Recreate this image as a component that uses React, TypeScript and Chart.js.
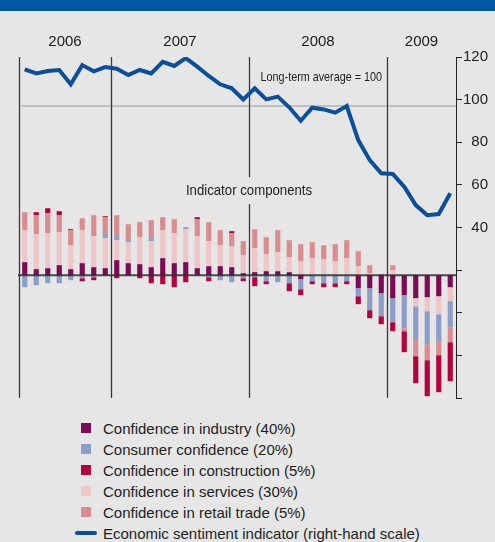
import React, { useEffect, useRef } from 'react';
import { Chart, registerables } from 'chart.js';
Chart.register(...registerables);

const months = [
  'May 06', 'Jun 06', 'Jul 06', 'Aug 06', 'Sep 06', 'Oct 06', 'Nov 06', 'Dec 06',
  'Jan 07', 'Feb 07', 'Mar 07', 'Apr 07', 'May 07', 'Jun 07', 'Jul 07', 'Aug 07', 'Sep 07', 'Oct 07', 'Nov 07', 'Dec 07',
  'Jan 08', 'Feb 08', 'Mar 08', 'Apr 08', 'May 08', 'Jun 08', 'Jul 08', 'Aug 08', 'Sep 08', 'Oct 08', 'Nov 08', 'Dec 08',
  'Jan 09', 'Feb 09', 'Mar 09', 'Apr 09', 'May 09', 'Jun 09',
];

// Component contributions (left, hidden scale)
const industry = [6.5, 3, 3.5, 5, 3, 6, 4, 3.5, 7.5, 6, 5.5, 4, 8.5, 6, 6.5, 3.5, 4.5, 4.5, 4, 1, 1.5, 2, 2, 1.5, -2, 0, 0, 0, 0, -6.5, -6.5, -9, -11.5, -10, -11.5, -11, -10.5, -6];
const services = [16, 17.5, 17.5, 16.5, 12, 16.5, 15.5, 15, 10, 10.5, 13.5, 13, 14, 15, 16.5, 16, 12.5, 10.5, 10.5, 9, 12, 8.5, 9.5, 7.5, 7, 8.5, 8, 7, 8.5, 4.5, 1, 0, 2.5, 0, -4, -7, -9, -7];
const consumer = [-6, -5, -4, -4, -2.5, -1.5, -1, 2.5, 2.5, 1, 0, 2, 0, 0, 1, 0, -1, -2.5, -3.5, -1.5, -1, -3, -3.5, -4, -5, -3, -4, -4, -3, -4, -11, -11.5, -12, -16.5, -16.5, -16.5, -13.5, -13];
const retail = [9, 9.5, 10, 8.5, 7.5, 6, 10.5, 8, 10, 8, 7.5, 8.5, 6.5, 7, 0, 8.5, 9.5, 7.5, 6.5, 7, 9.5, 8.5, 11, 8.5, 8.5, 8, 7, 8.5, 9, 7.5, 4, 0.5, 2.5, -1.5, -8.5, -8, -7, -7.5];
const construction = [0, 1.5, 2.5, 2, 0.5, -1.5, -1.5, 0.5, -1.5, 0, -1.5, -4, -4.5, -6, -3.5, 1, -2, 0, 1, -1.5, -4.5, -1.5, 0, -4, -3, -1.5, -2, -2, -1.5, -4, -4, -4, -4.5, -10.5, -13.5, -18, -18.5, -19.5];

// Economic sentiment indicator (right-hand scale)
const esi = [114.2, 112.3, 113.4, 113.9, 107.2, 116.2, 113.3, 115.3, 114.5, 111.5, 113.9, 112.3, 117.7, 115.8, 119.5, 115.5, 111.1, 107.2, 105.3, 100.1, 105.3, 100.1, 101.4, 96.4, 90.1, 96.2, 95.4, 93.9, 97.0, 81.0, 71.6, 65.4, 65.1, 59.1, 50.5, 45.8, 46.3, 56.1];

const yearLabels = ['2006', '2007', '2008', '2009'];
const yearStarts = [0, 8, 20, 32];
const rightMin = -40;
const rightMax = 120;
const rightStep = 20;
const rightLabelFrom = 40;
const longTermAverage = 97;

const C_IND = '#7c0a55';
const C_CON = '#8b9ec9';
const C_CST = '#b5003e';
const C_SER = '#efc6c6';
const C_RET = '#d98b8e';
const C_ESI = '#0a4f9b';
const BG = '#e6e6e6';
const FONT = '"Liberation Sans", Arial, sans-serif';

const legendItems = [
  { label: 'Confidence in industry (40%)', color: C_IND, line: false },
  { label: 'Consumer confidence (20%)', color: C_CON, line: false },
  { label: 'Confidence in construction (5%)', color: C_CST, line: false },
  { label: 'Confidence in services (30%)', color: C_SER, line: false },
  { label: 'Confidence in retail trade (5%)', color: C_RET, line: false },
  { label: 'Economic sentiment indicator (right-hand scale)', color: C_ESI, line: true },
];

export default function App() {
  const ref = useRef<HTMLCanvasElement>(null);

  useEffect(() => {
    document.body.style.margin = '0';
    const canvas = ref.current;
    if (!canvas) return;

    const overlay = {
      id: 'overlay',
      beforeDatasetsDraw(chart: any) {
        const ctx = chart.ctx;
        const xs = chart.scales.x;
        const yR = chart.scales.y;
        const yB = chart.scales.yBar;
        const { top, bottom, left, right } = chart.chartArea;
        const half = (xs.getPixelForValue(1) - xs.getPixelForValue(0)) / 2;
        const boundary = (i: number) => xs.getPixelForValue(i) - half;
        ctx.save();
        // long-term average line
        const ya = yR.getPixelForValue(longTermAverage);
        ctx.strokeStyle = '#b3b3b3';
        ctx.lineWidth = 1.5;
        ctx.beginPath();
        ctx.moveTo(left + 2, ya);
        ctx.lineTo(right, ya);
        ctx.stroke();
        // year separators
        ctx.strokeStyle = '#3a3a3a';
        ctx.lineWidth = 1.3;
        yearStarts.forEach((s) => {
          const x = Math.round(boundary(s)) + 0.5;
          ctx.beginPath();
          ctx.moveTo(x, top);
          ctx.lineTo(x, bottom);
          ctx.stroke();
        });
        // Long-term average label
        ctx.fillStyle = '#222';
        ctx.font = `13px ${FONT}`;
        ctx.textBaseline = 'middle';
        ctx.textAlign = 'right';
        ctx.save();
        ctx.translate(boundary(32) - 5, yR.getPixelForValue(110.3));
        ctx.scale(0.83, 1);
        ctx.fillText('Long-term average = 100', 0, 0);
        ctx.restore();
        // Indicator components label with background box
        const cx = boundary(20);
        const cy = yB.getPixelForValue(42);
        ctx.fillStyle = BG;
        ctx.fillRect(cx - 66, cy - 14, 132, 27);
        ctx.fillStyle = '#222';
        ctx.font = `15px ${FONT}`;
        ctx.textAlign = 'center';
        ctx.save();
        ctx.translate(cx, cy);
        ctx.scale(0.88, 1);
        ctx.fillText('Indicator components', 0, 0);
        ctx.restore();
        // year labels
        ctx.font = `15px ${FONT}`;
        ctx.fillStyle = '#1a1a1a';
        yearLabels.forEach((yl, i) => {
          const a = boundary(yearStarts[i]);
          const b = i + 1 < yearStarts.length ? boundary(yearStarts[i + 1]) : right;
          ctx.fillText(yl, (a + b) / 2, top - 15);
        });
        ctx.restore();
      },
      afterDatasetsDraw(chart: any) {
        const ctx = chart.ctx;
        const yB = chart.scales.yBar;
        const { left, right } = chart.chartArea;
        const y0 = yB.getPixelForValue(0);
        ctx.save();
        ctx.strokeStyle = 'rgba(45,45,45,0.85)';
        ctx.lineWidth = 2;
        ctx.beginPath();
        ctx.moveTo(left - 1, y0);
        ctx.lineTo(right, y0);
        ctx.stroke();
        ctx.restore();
      },
    };

    const barCommon = {
      type: 'bar' as const,
      yAxisID: 'yBar',
      barPercentage: 0.45,
      categoryPercentage: 1,
      borderWidth: 0,
      order: 1,
    };

    const chart = new Chart(canvas, {
      type: 'bar',
      data: {
        labels: months,
        datasets: [
          {
            type: 'line',
            label: 'Economic sentiment indicator (right-hand scale)',
            data: esi,
            yAxisID: 'y',
            borderColor: C_ESI,
            backgroundColor: C_ESI,
            borderWidth: 4,
            pointRadius: 0,
            tension: 0,
            fill: false,
            order: 0,
          } as any,
          { ...barCommon, label: 'Confidence in industry (40%)', data: industry, backgroundColor: C_IND },
          { ...barCommon, label: 'Confidence in services (30%)', data: services, backgroundColor: C_SER },
          { ...barCommon, label: 'Consumer confidence (20%)', data: consumer, backgroundColor: C_CON },
          { ...barCommon, label: 'Confidence in retail trade (5%)', data: retail, backgroundColor: C_RET },
          { ...barCommon, label: 'Confidence in construction (5%)', data: construction, backgroundColor: C_CST },
        ],
      },
      options: {
        animation: false,
        responsive: false,
        devicePixelRatio: 1,
        layout: { padding: { left: 19, top: 57, right: 7, bottom: 12 } },
        plugins: { legend: { display: false }, tooltip: { enabled: false } },
        scales: {
          x: { display: false, stacked: true, offset: true },
          yBar: { display: false, stacked: true, min: -61.4, max: 109.1 },
          y: {
            position: 'right',
            stacked: false,
            min: rightMin,
            max: rightMax,
            afterFit: (scale: any) => { scale.width = 32; },
            ticks: {
              stepSize: rightStep,
              crossAlign: 'far',
              color: '#222',
              font: { size: 15, family: FONT },
              callback: (v: any) => (Number(v) >= rightLabelFrom ? String(v) : ''),
            },
            grid: { drawOnChartArea: false, drawTicks: true, tickLength: 6, color: '#222', lineWidth: 1 },
            border: { display: true, color: '#222', width: 1 },
          },
        },
      } as any,
      plugins: [overlay],
    });
    return () => chart.destroy();
  }, []);

  return (
    <div style={{ position: 'fixed', left: 0, top: 0, width: 495, height: 542, background: BG, overflow: 'hidden', fontFamily: FONT }}>
      <canvas ref={ref} width={495} height={410} style={{ position: 'absolute', left: 0, top: 0, width: 495, height: 410 }} />
      <div style={{ position: 'absolute', left: 0, top: 0, width: 495, height: 11, background: '#0059a0' }} />
      <div style={{ position: 'absolute', left: 0, top: 417.5, width: 495 }}>
        {legendItems.map((it) => (
          <div key={it.label} style={{ position: 'relative', height: 21, lineHeight: '21px', fontSize: 15, color: '#1e1e1e', whiteSpace: 'nowrap' }}>
            {it.line ? (
              <span style={{ position: 'absolute', left: 75, top: 8.5, width: 22, height: 4, borderRadius: 2, background: it.color }} />
            ) : (
              <span style={{ position: 'absolute', left: 81, top: 5.5, width: 10, height: 10, background: it.color }} />
            )}
            <span style={{ position: 'absolute', left: 103, top: 0 }}>{it.label}</span>
          </div>
        ))}
      </div>
    </div>
  );
}
